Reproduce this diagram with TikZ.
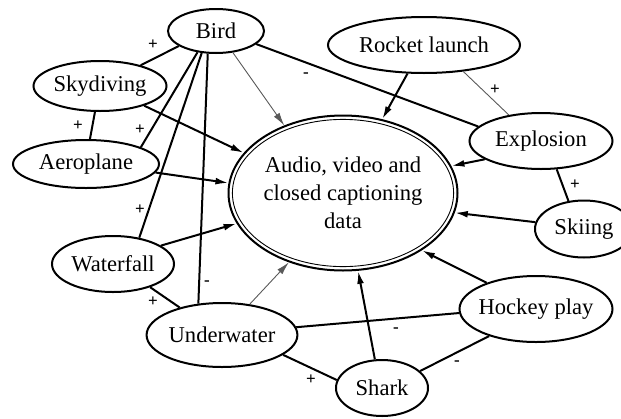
\documentclass[tikz,border=0pt]{standalone}
\usepackage{fontspec}
\setmainfont{Liberation Serif}
\usetikzlibrary{shapes.geometric,arrows.meta}
\begin{document}
\begin{tikzpicture}[x=0.5pt,y=-0.5pt,
  every node/.style={font=\fontsize{11.3}{14}\selectfont},
  topic/.style={ellipse, draw, line width=1pt, inner sep=0pt},
  link/.style={line width=1pt},
  faint/.style={line width=0.45pt, draw=black!65},
  feed/.style={-{Latex[length=6.5pt,width=3.4pt]}},
  sign/.style={font=\fontsize{8.5}{8.5}\selectfont\bfseries, inner sep=0pt}
]
\clip (0,0) rectangle (621,418);

% events
\node[topic, minimum width=48pt,   minimum height=22pt]   (bird)   at (216,31)  {Bird};
\node[topic, minimum width=66.5pt, minimum height=25pt]   (sky)    at (100,86)  {Skydiving};
\node[topic, minimum width=73pt,   minimum height=24pt]   (aero)   at (86,164)  {Aeroplane};
\node[topic, minimum width=61pt,   minimum height=28pt]   (water)  at (113,264) {Waterfall};
\node[topic, minimum width=75pt,   minimum height=32pt]   (under)  at (222,335) {Underwater};
\node[topic, minimum width=46pt,   minimum height=28pt]   (shark)  at (382,388) {Shark};
\node[topic, minimum width=76.5pt, minimum height=33pt, inner xsep=-4pt] (hockey) at (536,309) {Hockey play};
\node[topic, minimum width=49pt,   minimum height=28.5pt] (skiing) at (584,229) {Skiing};
\node[topic, minimum width=71.5pt, minimum height=28pt]   (expl)   at (541,141) {Explosion};
\node[topic, minimum width=96pt,   minimum height=28pt]   (rocket) at (424,45)  {Rocket launch};

% central data store, drawn with a double rim
\node[topic, minimum width=114.5pt, minimum height=77.5pt, align=center] (data) at (343,193)
  {Audio, video and\\closed captioning\\data};
\draw[line width=0.45pt] (data.center) ellipse [x radius=55.3pt, y radius=36.8pt];

% relations between events
\draw[link] (bird.202) -- (sky.27);
\draw[link] (bird.229) -- (aero.17);
\draw[link] (bird.237) -- (water.45);
\draw[link] (bird.250) -- (under.127);
\draw[link] (bird.342) -- (expl.167);
\draw[link] (sky.259) -- (aero.81);
\draw[link] (water.328) -- (under.147);
\draw[link] (under.6) -- (hockey.183);
\draw[link] (under.342) -- (shark.170);
\draw[link] (shark.24) -- (hockey.210);
\draw[link] (expl.299) -- (skiing.119);
\draw[faint] (rocket.326) -- (expl.141);

% feeds into the data store
\draw[faint,feed] (bird.308) -- (data.131);
\draw[link,feed] (sky.336) -- (data.158);
\draw[link,feed] (aero.353) -- (data.175);
\draw[link,feed] (water.21) -- (data.196);
\draw[faint,feed] (under.48) -- (data.232);
\draw[link,feed] (shark.104) -- (data.281);
\draw[link,feed] (hockey.152) -- (data.324);
\draw[link,feed] (skiing.172) -- (data.350);
\draw[link,feed] (expl.198) -- (data.14);
\draw[link,feed] (rocket.240) -- (data.62);

% signs of the relations
\node[sign] (p1)  at (153,45)  {+};
\node[sign] (p2)  at (78,126)  {+};
\node[sign] (p3)  at (140,130) {+};
\node[sign] (p4)  at (140,210) {+};
\node[sign] (p5)  at (153,302) {+};
\node[sign] (p6)  at (311,380) {+};
\node[sign] (p7)  at (495,90)  {+};
\node[sign] (p8)  at (575,185) {+};
\node[sign] (m1)  at (207,283) {-};
\node[sign] (m2)  at (306,75)  {-};
\node[sign] (m3)  at (396,330) {-};
\node[sign] (m4)  at (457,363) {-};
\end{tikzpicture}
\end{document}
